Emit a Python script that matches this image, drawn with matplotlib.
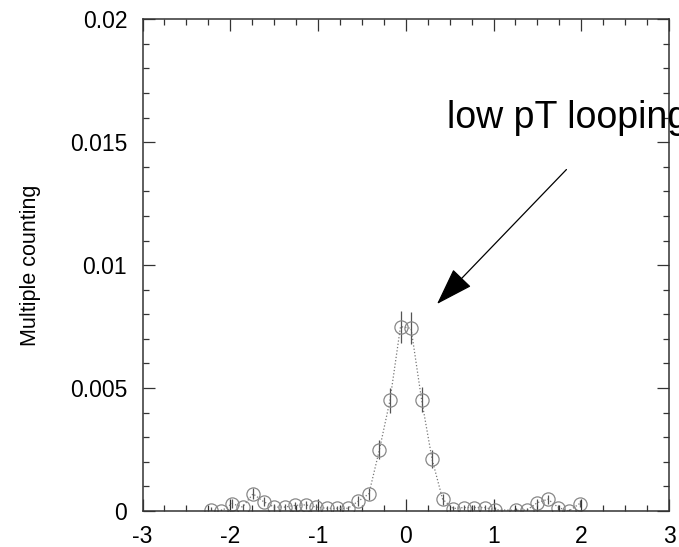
import matplotlib
matplotlib.use("Agg")
import matplotlib.pyplot as plt
from matplotlib.ticker import MultipleLocator, FormatStrFormatter

plt.rcParams['font.family'] = ['Liberation Sans', 'DejaVu Sans']
plt.rcParams['axes.unicode_minus'] = False

# eta bin centres (bin width 0.12) and multiple counting fraction
eta = [-2.22, -2.10, -1.98, -1.86, -1.74, -1.62, -1.50, -1.38, -1.26, -1.14,
       -1.02, -0.90, -0.78, -0.66, -0.54, -0.42, -0.30, -0.18, -0.06, 0.06,
       0.18, 0.30, 0.42, 0.54, 0.66, 0.78, 0.90, 1.02, 1.26, 1.38,
       1.50, 1.62, 1.74, 1.86, 1.98]
mult = [0.00003, 0.0, 0.0003, 0.00016, 0.0007, 0.00038, 0.00016, 0.00016, 0.00023, 0.00025,
        0.00016, 0.00011, 0.00011, 0.00011, 0.0004, 0.0007, 0.0025, 0.0045, 0.0075, 0.00743,
        0.00453, 0.0021, 0.00048, 0.0001, 0.00014, 0.00014, 0.00014, 0.00005, 0.00003, 0.00004,
        0.00034, 0.00048, 0.00014, 0.0, 0.0003]
err = [0.00012, 0.0001, 0.00018, 0.00014, 0.00022, 0.00018, 0.00012, 0.00012, 0.00015, 0.00016,
       0.00012, 0.0001, 0.0001, 0.0001, 0.0002, 0.00025, 0.00038, 0.0005, 0.00065, 0.00065,
       0.0005, 0.00037, 0.00022, 0.0001, 0.0001, 0.0001, 0.0001, 0.0001, 0.0001, 0.0001,
       0.00015, 0.00018, 0.0001, 0.0001, 0.00015]

fig = plt.figure(figsize=(6.79, 5.47), dpi=100)
ax = fig.add_axes([0.2099, 0.0658, 0.7754, 0.8989])

ax.plot(eta, mult, ls=':', color='#777777', lw=0.9)
ax.errorbar(eta, mult, yerr=err, fmt='o', ms=9.5, mfc='none', mec='#888888',
            mew=0.9, ecolor='#555555', elinewidth=0.9, capsize=0)

ax.set_xlim(-3, 3)
ax.set_ylim(0, 0.02)
ax.xaxis.set_major_locator(MultipleLocator(1))
ax.xaxis.set_minor_locator(MultipleLocator(0.25))
ax.yaxis.set_major_locator(MultipleLocator(0.005))
ax.yaxis.set_minor_locator(MultipleLocator(0.001))
ax.yaxis.set_major_formatter(FormatStrFormatter('%g'))
ax.tick_params(which='both', direction='in', top=True, right=True,
               labelsize=16.5, width=0.9, color='#333333')
ax.tick_params(which='major', length=8.5)
ax.tick_params(which='minor', length=4.3)
ax.tick_params(axis='y', pad=11)
ax.tick_params(axis='x', pad=10)
for s in ax.spines.values():
    s.set_linewidth(1.1)
    s.set_color('#333333')

ax.set_ylabel("Multiple counting", fontsize=15.5, labelpad=21)

ax.annotate("", xy=(0.356, 0.00842), xytext=(1.831, 0.01389),
            arrowprops=dict(arrowstyle='-|>,head_length=1.2,head_width=0.4',
                            mutation_scale=20, lw=0.9, color='black',
                            shrinkA=0, shrinkB=0))
ax.text(0.47, 0.01557, "low pT looping", fontsize=27, va='baseline',
        ha='left', clip_on=False)

fig.savefig("out.png", dpi=100)
